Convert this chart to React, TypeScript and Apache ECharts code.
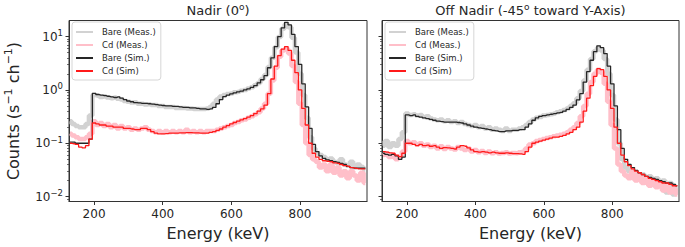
import React, { useEffect, useRef } from "react";
import * as echarts from "echarts";

const energies = [130, 140, 150, 160, 170, 180, 190, 200, 210, 220, 230, 240, 250, 260, 270, 280, 290, 300, 310, 320, 330, 340, 350, 360, 370, 380, 390, 400, 410, 420, 430, 440, 450, 460, 470, 480, 490, 500, 510, 520, 530, 540, 550, 560, 570, 580, 590, 600, 610, 620, 630, 640, 650, 660, 670, 680, 690, 700, 710, 720, 730, 740, 750, 760, 770, 780, 790, 800, 810, 820, 830, 840, 850, 860, 870, 880, 890, 900, 910, 920, 930, 940, 950, 960, 970, 980, 990];

// Nadir (0 deg)
const nadirBareMeas = [0.26, 0.23, 0.21, 0.2, 0.2, 0.23, 0.33, 0.8, 0.78, 0.74, 0.76, 0.72, 0.7, 0.72, 0.68, 0.66, 0.62, 0.6, 0.58, 0.59, 0.55, 0.55, 0.53, 0.54, 0.52, 0.52, 0.5, 0.5, 0.48, 0.48, 0.48, 0.46, 0.46, 0.46, 0.45, 0.45, 0.44, 0.44, 0.44, 0.44, 0.45, 0.48, 0.55, 0.66, 0.75, 0.8, 0.84, 0.86, 0.9, 0.92, 0.96, 1.0, 1.06, 1.12, 1.22, 1.35, 1.6, 1.9, 2.7, 4.0, 6.3, 9.8, 14.0, 17.0, 15.0, 9.5, 5.0, 2.0, 0.8, 0.3, 0.13, 0.08, 0.065, 0.06, 0.055, 0.05, 0.052, 0.045, 0.042, 0.05, 0.04, 0.038, 0.045, 0.035, 0.04, 0.036, 0.032];
const nadirCdMeas = [0.15, 0.14, 0.13, 0.12, 0.12, 0.13, 0.15, 0.26, 0.22, 0.24, 0.21, 0.23, 0.2, 0.22, 0.19, 0.21, 0.19, 0.2, 0.18, 0.19, 0.18, 0.19, 0.2, 0.18, 0.17, 0.16, 0.17, 0.16, 0.17, 0.16, 0.17, 0.16, 0.17, 0.16, 0.18, 0.16, 0.17, 0.16, 0.17, 0.16, 0.17, 0.17, 0.17, 0.18, 0.19, 0.2, 0.21, 0.22, 0.24, 0.25, 0.27, 0.28, 0.3, 0.32, 0.35, 0.38, 0.45, 0.55, 0.85, 1.5, 2.6, 4.2, 5.5, 6.0, 4.8, 2.8, 1.4, 0.55, 0.22, 0.1, 0.06, 0.05, 0.045, 0.035, 0.04, 0.03, 0.04, 0.028, 0.035, 0.025, 0.03, 0.022, 0.03, 0.025, 0.02, 0.028, 0.018];
const nadirBareSim = [0.105, 0.105, 0.1, 0.1, 0.1, 0.1, 0.12, 0.86, 0.82, 0.8, 0.78, 0.76, 0.74, 0.72, 0.74, 0.7, 0.66, 0.62, 0.6, 0.58, 0.57, 0.56, 0.56, 0.55, 0.54, 0.53, 0.52, 0.51, 0.5, 0.5, 0.49, 0.49, 0.48, 0.47, 0.47, 0.46, 0.46, 0.45, 0.44, 0.44, 0.43, 0.44, 0.47, 0.55, 0.66, 0.75, 0.8, 0.84, 0.88, 0.92, 0.95, 1.0, 1.05, 1.12, 1.2, 1.35, 1.55, 1.85, 2.6, 4.0, 6.5, 10.0, 14.5, 18.5, 16.5, 11.0, 6.5, 3.0, 1.3, 0.48, 0.19, 0.095, 0.07, 0.058, 0.052, 0.049, 0.047, 0.045, 0.044, 0.042, 0.04, 0.037, 0.035, 0.034, 0.034, 0.034, 0.034];
const nadirCdSim = [0.1, 0.098, 0.095, 0.085, 0.082, 0.09, 0.12, 0.24, 0.23, 0.22, 0.22, 0.21, 0.21, 0.2, 0.2, 0.2, 0.19, 0.19, 0.185, 0.18, 0.18, 0.19, 0.19, 0.18, 0.165, 0.155, 0.15, 0.15, 0.152, 0.155, 0.155, 0.155, 0.156, 0.157, 0.158, 0.158, 0.157, 0.156, 0.155, 0.155, 0.155, 0.16, 0.165, 0.175, 0.185, 0.2, 0.215, 0.23, 0.245, 0.26, 0.275, 0.29, 0.31, 0.33, 0.36, 0.4, 0.44, 0.52, 0.85, 1.6, 2.8, 4.4, 5.8, 6.5, 5.5, 3.6, 2.1, 1.0, 0.45, 0.22, 0.1, 0.065, 0.055, 0.05, 0.047, 0.046, 0.045, 0.043, 0.042, 0.04, 0.038, 0.037, 0.035, 0.034, 0.033, 0.033, 0.033];

// Off Nadir (-45 deg toward Y-Axis)
const offBareMeas = [0.09, 0.11, 0.085, 0.1, 0.09, 0.12, 0.16, 0.36, 0.34, 0.35, 0.33, 0.34, 0.31, 0.32, 0.29, 0.28, 0.27, 0.28, 0.26, 0.27, 0.25, 0.26, 0.24, 0.25, 0.23, 0.22, 0.21, 0.22, 0.2, 0.21, 0.19, 0.2, 0.18, 0.19, 0.18, 0.17, 0.19, 0.17, 0.18, 0.18, 0.19, 0.2, 0.22, 0.25, 0.28, 0.3, 0.31, 0.33, 0.34, 0.35, 0.36, 0.38, 0.4, 0.42, 0.45, 0.5, 0.56, 0.7, 0.95, 1.5, 2.4, 3.8, 5.3, 6.2, 5.5, 3.8, 2.0, 0.8, 0.28, 0.1, 0.05, 0.035, 0.03, 0.025, 0.028, 0.022, 0.026, 0.02, 0.024, 0.018, 0.022, 0.016, 0.02, 0.012, 0.018, 0.011, 0.015];
const offCdMeas = [0.06, 0.065, 0.055, 0.06, 0.05, 0.055, 0.07, 0.11, 0.1, 0.105, 0.095, 0.1, 0.09, 0.095, 0.085, 0.09, 0.08, 0.088, 0.078, 0.085, 0.08, 0.076, 0.085, 0.08, 0.075, 0.08, 0.07, 0.075, 0.068, 0.072, 0.066, 0.07, 0.065, 0.068, 0.064, 0.066, 0.068, 0.064, 0.066, 0.065, 0.068, 0.07, 0.08, 0.095, 0.1, 0.11, 0.115, 0.12, 0.125, 0.13, 0.135, 0.14, 0.145, 0.15, 0.16, 0.18, 0.2, 0.24, 0.32, 0.5, 0.85, 1.4, 2.0, 2.4, 2.1, 1.3, 0.6, 0.22, 0.08, 0.04, 0.03, 0.025, 0.022, 0.03, 0.02, 0.025, 0.018, 0.022, 0.016, 0.02, 0.015, 0.018, 0.013, 0.016, 0.012, 0.014, 0.011];
const offBareSim = [0.065, 0.062, 0.06, 0.062, 0.058, 0.05, 0.055, 0.34, 0.33, 0.34, 0.32, 0.31, 0.3, 0.29, 0.28, 0.27, 0.26, 0.255, 0.25, 0.25, 0.25, 0.25, 0.245, 0.24, 0.23, 0.22, 0.21, 0.2, 0.195, 0.19, 0.185, 0.18, 0.175, 0.17, 0.165, 0.165, 0.17, 0.17, 0.175, 0.175, 0.18, 0.18, 0.2, 0.23, 0.27, 0.3, 0.32, 0.33, 0.34, 0.35, 0.36, 0.37, 0.38, 0.4, 0.43, 0.47, 0.52, 0.65, 0.85, 1.4, 2.2, 3.6, 5.2, 6.7, 6.2, 4.8, 2.8, 1.3, 0.5, 0.18, 0.08, 0.05, 0.04, 0.035, 0.031, 0.028, 0.026, 0.024, 0.023, 0.022, 0.021, 0.02, 0.019, 0.018, 0.018, 0.017, 0.016];
const offCdSim = [0.07, 0.068, 0.066, 0.065, 0.06, 0.056, 0.065, 0.1, 0.1, 0.095, 0.09, 0.095, 0.09, 0.092, 0.088, 0.09, 0.085, 0.08, 0.083, 0.082, 0.08, 0.078, 0.085, 0.09, 0.088, 0.082, 0.075, 0.07, 0.068, 0.07, 0.068, 0.066, 0.068, 0.066, 0.065, 0.065, 0.066, 0.065, 0.064, 0.064, 0.063, 0.062, 0.07, 0.085, 0.1, 0.105, 0.11, 0.115, 0.12, 0.125, 0.13, 0.13, 0.135, 0.14, 0.15, 0.16, 0.18, 0.2, 0.25, 0.4, 0.7, 1.2, 1.8, 2.5, 2.4, 1.8, 1.0, 0.45, 0.2, 0.1, 0.06, 0.045, 0.038, 0.033, 0.03, 0.028, 0.026, 0.024, 0.022, 0.021, 0.02, 0.019, 0.018, 0.018, 0.017, 0.016, 0.016];

const xTicks = [200, 400, 600, 800];
const yMajorTicks = [0.01, 0.1, 1, 10];
const yMinorTicks = [0.009, 0.02, 0.03, 0.04, 0.05, 0.06, 0.07, 0.08, 0.09, 0.2, 0.3, 0.4, 0.5, 0.6, 0.7, 0.8, 0.9, 2, 3, 4, 5, 6, 7, 8, 9];
const seriesNames = ["Bare (Meas.)", "Cd (Meas.)", "Bare (Sim.)", "Cd (Sim)"];
const panelTitles = ["Nadir (0{sup|o})", "Off Nadir (-45{sup|o} toward Y-Axis)"];

const FONT = "DejaVu Sans";
const TXT = "#262626";
const AX = "#333333";

export default function App() {
  const ref = useRef<HTMLDivElement>(null);
  useEffect(() => {
    if (!ref.current) return;
    const chart = echarts.init(ref.current, null, { renderer: "svg" });
    const grids = [
      { left: 69, top: 20.5, width: 298, height: 181 },
      { left: 382, top: 20.5, width: 297, height: 181 },
    ];
    const panels = [
      [nadirBareMeas, nadirCdMeas, nadirBareSim, nadirCdSim],
      [offBareMeas, offCdMeas, offBareSim, offCdSim],
    ];
    const styles = [
      { color: "#d2d2d2", width: 4.5 },
      { color: "#ffbfc9", width: 4.5 },
      { color: "#262626", width: 1.3 },
      { color: "#ff1a1a", width: 1.3 },
    ];
    const series: any[] = [];
    panels.forEach((arrs, p) => {
      arrs.forEach((arr, k) => {
        series.push({
          type: "line",
          name: seriesNames[k],
          xAxisIndex: p,
          yAxisIndex: p * 2,
          step: "middle",
          symbol: "none",
          data: energies.map((e, i) => [e, arr[i]]),
          lineStyle: { color: styles[k].color, width: styles[k].width },
          itemStyle: { color: styles[k].color },
          z: k < 2 ? 2 : 3,
        });
      });
    });
    const supRich = { sup: { fontSize: 9, fontFamily: FONT, color: TXT, verticalAlign: "top", lineHeight: 9 } };
    const xAxis = grids.map((_, p) => ({
      type: "value",
      gridIndex: p,
      min: 127,
      max: 995,
      splitLine: { show: false },
      axisLine: { show: true, lineStyle: { color: AX, width: 1 } },
      axisTick: { show: true, length: 3.5, customValues: xTicks, lineStyle: { color: AX } },
      axisLabel: { customValues: xTicks, fontSize: 12, fontFamily: FONT, color: TXT, margin: 6 },
      name: "Energy (keV)",
      nameLocation: "middle",
      nameGap: 24,
      nameTextStyle: { fontSize: 16, fontFamily: FONT, color: TXT },
    }));
    const yAxis: any[] = [];
    grids.forEach((_, p) => {
      yAxis.push({
        type: "log",
        logBase: 10,
        gridIndex: p,
        min: 0.0081,
        max: 20,
        position: "left",
        splitLine: { show: false },
        minorSplitLine: { show: false },
        axisLine: { show: true, lineStyle: { color: AX, width: 1 } },
        axisTick: { show: true, length: 3.5, customValues: yMajorTicks, lineStyle: { color: AX } },
        axisLabel: {
          show: p === 0,
          customValues: yMajorTicks,
          margin: 6,
          fontSize: 12,
          fontFamily: FONT,
          color: TXT,
          lineHeight: 16,
          formatter: (v: number) => {
            const ex = Math.round(Math.log10(v));
            return "10{sup|" + (ex < 0 ? "\u2212" + -ex : String(ex)) + "}";
          },
          rich: { sup: { fontSize: 8.5, fontFamily: FONT, color: TXT, verticalAlign: "top", lineHeight: 9 } },
        },
        name: p === 0 ? "Counts (s{sup|\u22121} ch{sup|\u22121})" : "",
        nameLocation: "middle",
        nameRotate: 90,
        nameGap: 46,
        nameTextStyle: { fontSize: 16, fontFamily: FONT, color: TXT, lineHeight: 20, rich: { sup: { fontSize: 11, fontFamily: FONT, color: TXT, verticalAlign: "top", lineHeight: 11 } } },
      });
      yAxis.push({
        type: "log",
        logBase: 10,
        gridIndex: p,
        min: 0.0081,
        max: 20,
        position: "left",
        splitLine: { show: false },
        axisLine: { show: false },
        axisLabel: { show: false },
        axisTick: { show: true, length: 2, customValues: yMinorTicks, lineStyle: { color: AX, width: 0.7 } },
      });
    });
    const legends = grids.map((g) => ({
      show: true,
      data: seriesNames,
      orient: "vertical",
      left: g.left + 3,
      top: 22,
      itemWidth: 17,
      itemHeight: 9,
      itemGap: 3,
      padding: [5, 5, 4, 3],
      selectedMode: false,
      backgroundColor: "rgba(255,255,255,0.85)",
      borderColor: "#d6d6d6",
      borderWidth: 1,
      borderRadius: 3,
      itemStyle: { color: "rgba(0,0,0,0)", borderColor: "rgba(0,0,0,0)", borderWidth: 0 },
      textStyle: { fontSize: 8.5, fontFamily: FONT, color: TXT, lineHeight: 10, padding: [0, 0, 0, 4] },
    }));
    const centers = grids.map((g) => g.left + g.width / 2);
    const graphic = panelTitles.map((t, p) => ({
      type: "text",
      x: centers[p],
      y: 2,
      style: {
        text: t,
        textAlign: "center",
        fontSize: 13,
        fontFamily: FONT,
        fill: TXT,
        lineHeight: 16,
        rich: supRich,
      },
    }));
    chart.setOption({
      animation: false,
      backgroundColor: "#ffffff",
      grid: grids.map((g) => ({ ...g, show: true, borderColor: AX, borderWidth: 1, backgroundColor: "transparent", containLabel: false })),
      xAxis,
      yAxis,
      legend: legends,
      graphic,
      series,
    });
    return () => chart.dispose();
  }, []);
  return <div ref={ref} style={{ position: "fixed", left: 0, top: 0, width: 685, height: 247 }} />;
}
